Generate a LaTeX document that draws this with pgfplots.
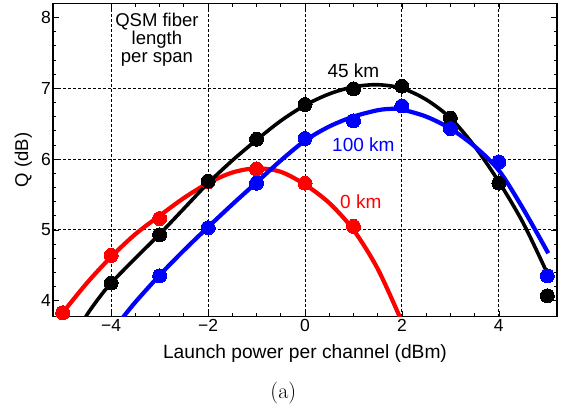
\documentclass[border=0pt]{standalone}
\usepackage{fontspec}
\usepackage{pgfplots}
\pgfplotsset{compat=1.18}
\newfontfamily\arial{Liberation Sans}
\begin{document}
\begin{tikzpicture}
\begin{axis}[
  at={(0,0)}, anchor=south west,
  scale only axis, width=504bp, height=313.4bp,
  xmin=-5.2, xmax=5.2, ymin=3.774, ymax=8.2,
  xtick={-4,-2,0,2,4}, xticklabels={−4,−2,0,2,4},
  ytick={4,5,6,7,8}, yticklabels={4,5,6,7,8},
  minor x tick num=3, minor y tick num=4,
  tick align=inside,
  major tick length=6bp, minor tick length=3.5bp,
  every tick/.style={black, line width=0.7bp},
  axis line style={line width=1.1bp, black},
  xmajorgrids=true,
  extra y ticks={5,6,7}, extra y tick labels={},
  extra y tick style={ymajorgrids=true},
  grid style={black, line width=0.9bp, dash pattern=on 2.6bp off 2.4bp},
  tick label style={font=\arial\fontsize{17.5bp}{19bp}\selectfont},
  yticklabel style={xshift=1.5bp},
  xticklabel style={yshift=0.5bp},
  xlabel={Launch power per channel (dBm)},
  xlabel style={font=\arial\fontsize{19.2bp}{21bp}\selectfont, at={(axis description cs:0.5,-0.119)}, anchor=center},
  ylabel={Q (dB)},
  ylabel style={font=\arial\fontsize{18.5bp}{20bp}\selectfont, at={(axis description cs:-0.059,0.5)}, anchor=center},
  clip mode=global,
]
% 0 km (red)
\addplot[red, line width=4.2bp, smooth] coordinates {
(-5.25,3.62) (-5,3.83) (-4.5,4.25) (-4,4.62) (-3.5,4.94) (-3,5.2) (-2.5,5.45) (-2,5.66)
(-1.5,5.81) (-1,5.87) (-0.5,5.82) (0,5.64) (0.5,5.38) (1,5.0) (1.5,4.45) (2,3.7) (2.1,3.5)};
\addplot[only marks, mark=*, mark size=7bp, mark options={fill=red, draw=red, line width=0pt}] coordinates {
(-5,3.83) (-4,4.64) (-3,5.16) (-2,5.68) (-1,5.86) (0,5.66) (1,5.05)};
% 45 km (black)
\addplot[black, line width=3.6bp, smooth] coordinates {
(-4.7,3.55) (-4.5,3.8) (-4.25,4.04) (-4,4.25) (-3.5,4.6) (-3,4.94) (-2.5,5.3) (-2,5.66)
(-1.5,5.98) (-1,6.27) (-0.5,6.54) (0,6.76) (0.5,6.92) (1,7.02) (1.5,7.05) (2,7.0)
(2.5,6.84) (3,6.58) (3.5,6.18) (4,5.68) (4.5,5.1) (4.97,4.43)};
\addplot[only marks, mark=*, mark size=7bp, mark options={fill=black, draw=black, line width=0pt}] coordinates {
(-4,4.25) (-3,4.93) (-2,5.69) (-1,6.28) (0,6.77) (1,6.99) (2,7.03) (3,6.58) (4,5.66) (5,4.07)};
% 100 km (blue)
\addplot[blue, line width=4.2bp, smooth] coordinates {
(-3.95,3.6) (-3.75,3.77) (-3.5,3.98) (-3,4.36) (-2.5,4.71) (-2,5.04) (-1.5,5.36) (-1,5.67)
(-0.5,5.98) (0,6.26) (0.5,6.46) (1,6.6) (1.5,6.69) (1.8,6.71) (2,6.7) (2.5,6.6)
(3,6.43) (3.5,6.18) (4,5.84) (4.5,5.3) (5.02,4.67)};
\addplot[only marks, mark=*, mark size=7bp, mark options={fill=blue, draw=blue, line width=0pt}] coordinates {
(-3,4.35) (-2,5.03) (-1,5.66) (0,6.29) (1,6.54) (2,6.75) (3,6.43) (4,5.96) (5,4.35)};
% annotations
\node[font=\arial\fontsize{18.5bp}{20bp}\selectfont, anchor=base] at (axis cs:-3.055,7.877) {QSM fiber};
\node[font=\arial\fontsize{18.5bp}{20bp}\selectfont, anchor=base] at (axis cs:-3.055,7.619) {length};
\node[font=\arial\fontsize{18.5bp}{20bp}\selectfont, anchor=base] at (axis cs:-3.055,7.361) {per span};
\node[font=\arial\fontsize{19bp}{20bp}\selectfont, anchor=base, text=black] at (axis cs:1.0,7.153) {45 km};
\node[font=\arial\fontsize{19bp}{20bp}\selectfont, anchor=base, text=blue] at (axis cs:1.205,6.103) {100 km};
\node[font=\arial\fontsize{19bp}{20bp}\selectfont, anchor=base, text=red] at (axis cs:1.152,5.304) {0 km};
\end{axis}
\node[font=\fontsize{22bp}{24bp}\selectfont] at (230.3bp,-76.3bp) {(a)};
\pgfresetboundingbox
\useasboundingbox (-53bp,-93.3bp) rectangle (508bp,316.7bp);
\end{tikzpicture}
\end{document}
